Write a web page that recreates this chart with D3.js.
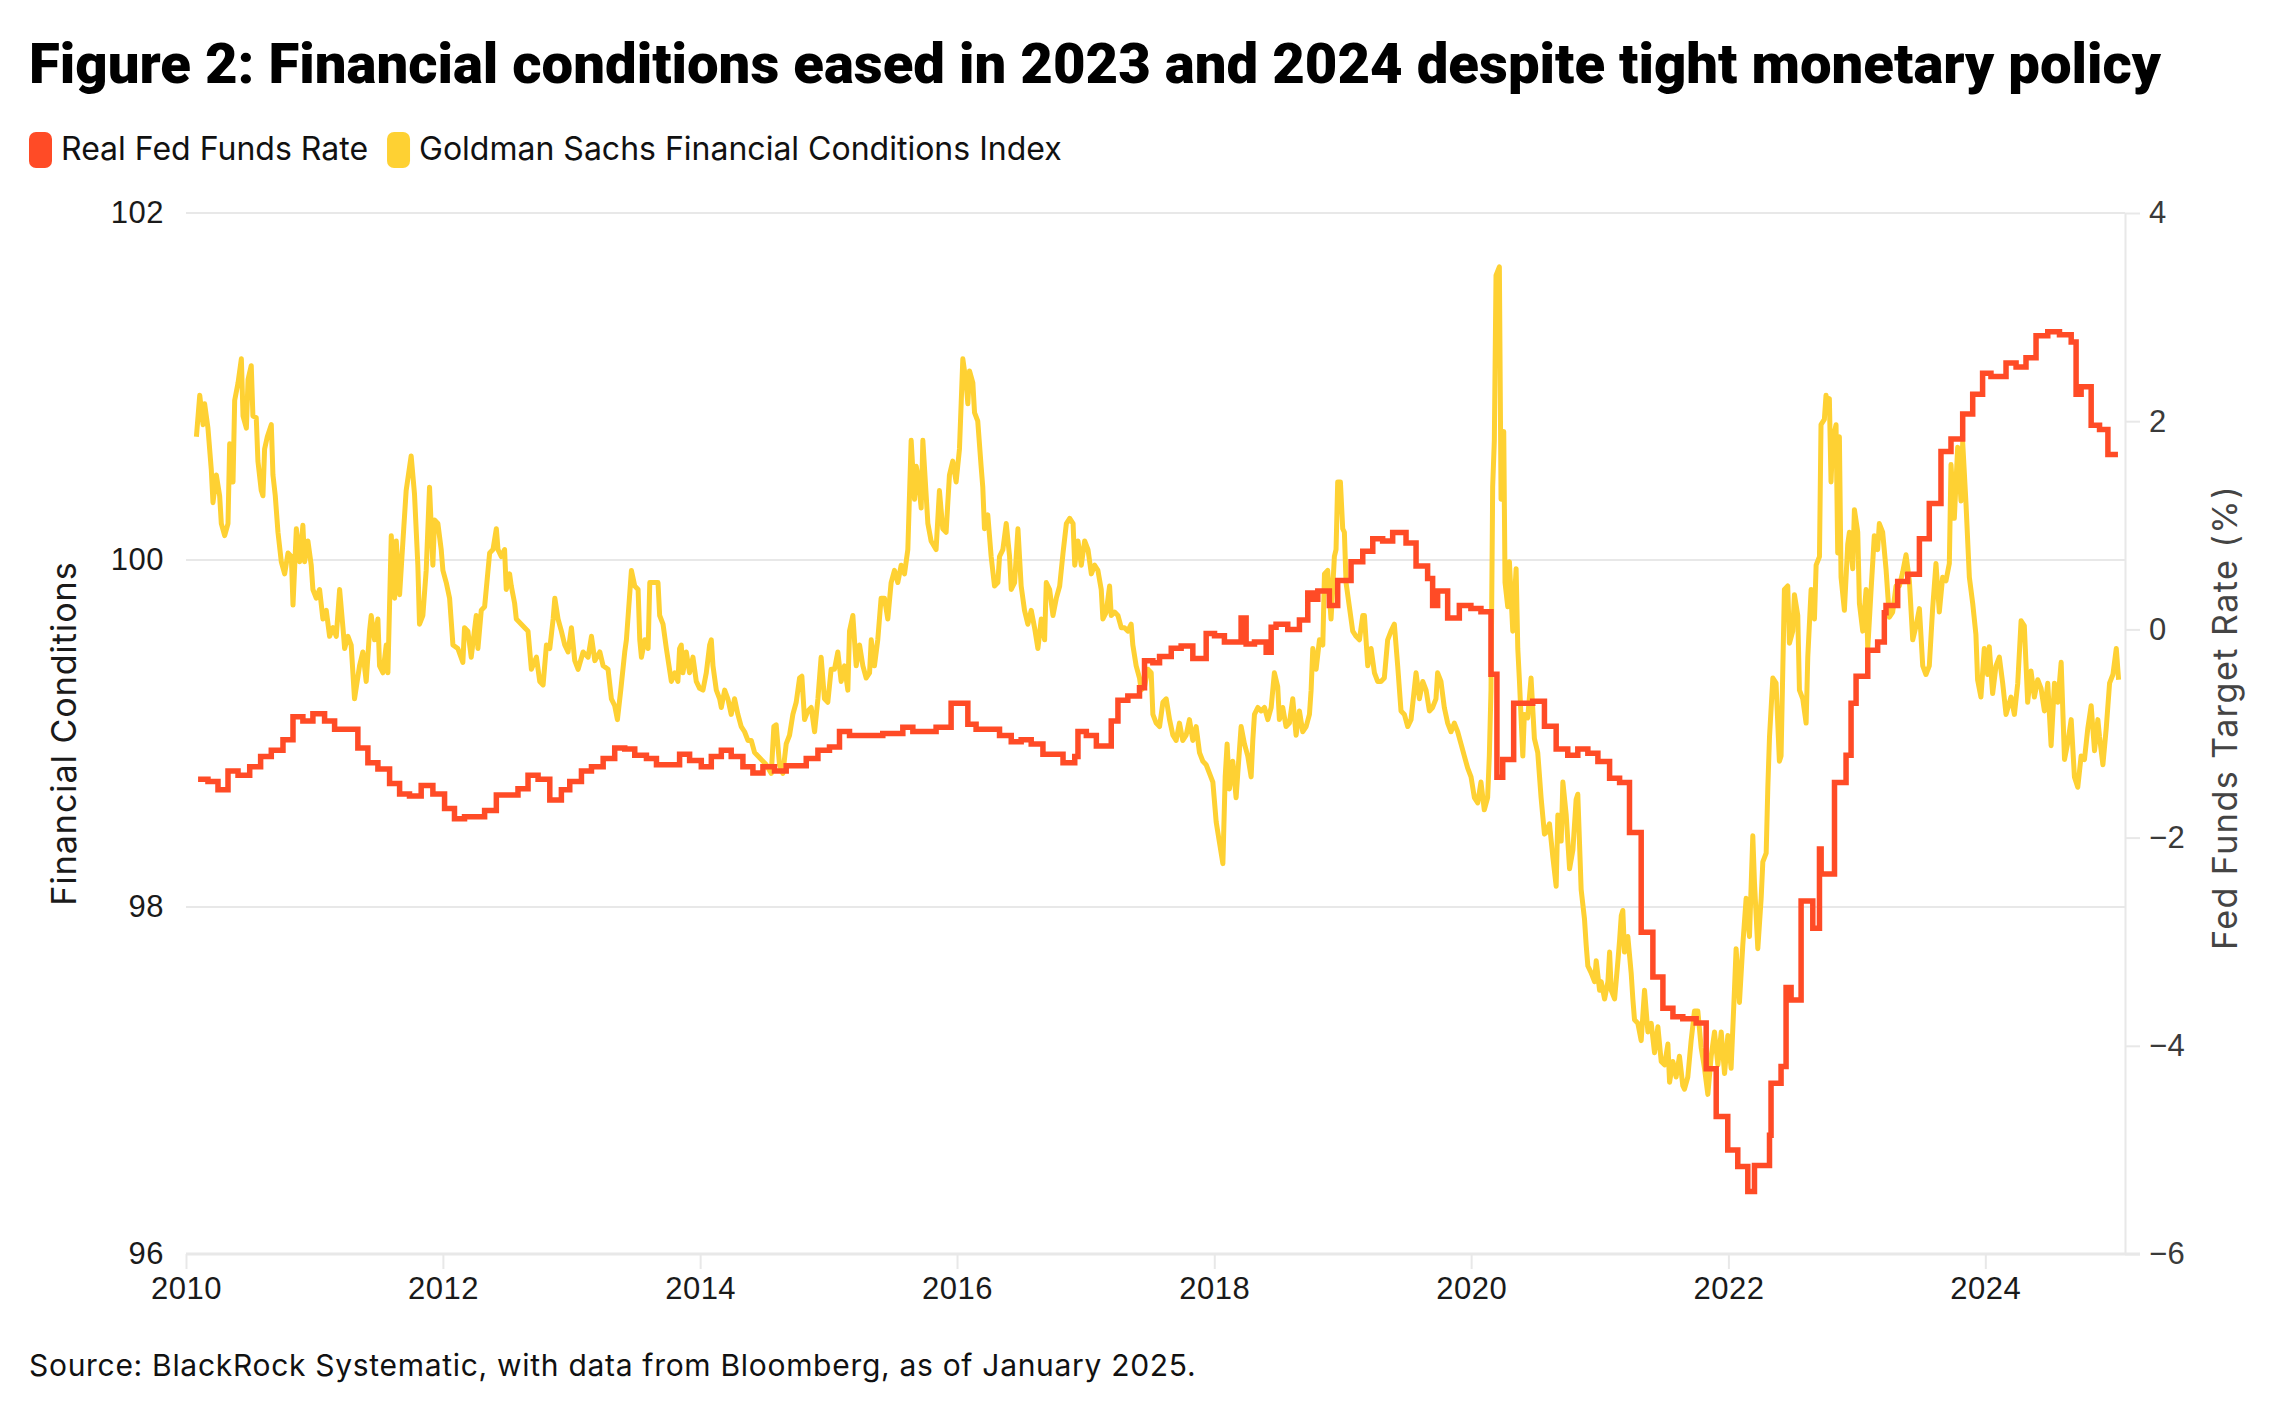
<!DOCTYPE html>
<html>
<head>
<meta charset="utf-8">
<script src="https://cdn.jsdelivr.net/npm/d3@7"></script>
<style>
  body { margin: 0; background: #fff; }
  svg { display: block; font-family: Inter, "Open Sans", "DejaVu Sans", sans-serif; }
</style>
</head>
<body>
<div id="chart"></div>
<script>
const titleText = "Figure 2: Financial conditions eased in 2023 and 2024 despite tight monetary policy"
const sourceText = "Source: BlackRock Systematic, with data from Bloomberg, as of January 2025."
const seriesNames = ["Real Fed Funds Rate", "Goldman Sachs Financial Conditions Index"]
const seriesColors = ["#ff4b26", "#fed133"]
const yearTicks = [2010, 2012, 2014, 2016, 2018, 2020, 2022, 2024]
const fciTicks = [96, 98, 100, 102]
const rateTicks = [-6, -4, -2, 0, 2, 4]

// Goldman Sachs FCI, [decimal year, index level] (left axis)
const fci = [
  [2010.081,100.71],[2010.107,100.95],[2010.133,100.78],[2010.145,100.90],[2010.171,100.76],[2010.197,100.52],
  [2010.210,100.33],[2010.236,100.49],[2010.262,100.37],[2010.275,100.21],[2010.301,100.14],[2010.327,100.21],
  [2010.340,100.67],[2010.366,100.45],[2010.379,100.92],[2010.405,101.02],[2010.431,101.16],[2010.444,100.83],
  [2010.470,100.76],[2010.483,101.04],[2010.508,101.12],[2010.521,100.83],[2010.547,100.82],[2010.560,100.57],
  [2010.586,100.40],[2010.599,100.37],[2010.612,100.64],[2010.633,100.71],[2010.664,100.78],[2010.677,100.49],
  [2010.695,100.37],[2010.716,100.16],[2010.742,99.99],[2010.768,99.92],[2010.794,100.04],[2010.820,100.02],
  [2010.833,99.74],[2010.859,100.18],[2010.885,99.99],[2010.910,100.20],[2010.923,99.99],[2010.949,100.11],
  [2010.975,99.97],[2010.988,99.83],[2011.014,99.78],[2011.040,99.83],[2011.066,99.66],[2011.092,99.71],
  [2011.118,99.56],[2011.144,99.61],[2011.170,99.56],[2011.196,99.83],[2011.222,99.61],[2011.235,99.49],
  [2011.261,99.56],[2011.286,99.51],[2011.312,99.20],[2011.351,99.39],[2011.377,99.47],[2011.403,99.30],
  [2011.429,99.59],[2011.442,99.68],[2011.468,99.54],[2011.494,99.66],[2011.507,99.39],[2011.533,99.35],
  [2011.559,99.51],[2011.572,99.35],[2011.598,100.14],[2011.624,99.78],[2011.637,100.11],[2011.663,99.80],
  [2011.689,100.11],[2011.714,100.40],[2011.753,100.60],[2011.779,100.38],[2011.805,99.97],[2011.818,99.63],
  [2011.844,99.68],[2011.870,99.94],[2011.896,100.42],[2011.922,99.97],[2011.935,100.23],[2011.961,100.21],
  [2011.987,100.06],[2012.000,99.94],[2012.026,99.87],[2012.052,99.78],[2012.078,99.51],[2012.116,99.49],
  [2012.155,99.41],[2012.168,99.61],[2012.194,99.59],[2012.220,99.44],[2012.259,99.68],[2012.272,99.49],
  [2012.298,99.71],[2012.324,99.73],[2012.363,100.04],[2012.389,100.06],[2012.415,100.18],[2012.428,100.06],
  [2012.453,100.02],[2012.479,100.06],[2012.492,99.83],[2012.518,99.92],[2012.531,99.85],[2012.557,99.75],
  [2012.570,99.66],[2012.609,99.63],[2012.635,99.61],[2012.661,99.59],[2012.687,99.37],[2012.726,99.44],
  [2012.752,99.30],[2012.778,99.28],[2012.804,99.51],[2012.830,99.49],[2012.856,99.66],[2012.869,99.78],
  [2012.894,99.66],[2012.920,99.59],[2012.946,99.51],[2012.972,99.47],[2012.998,99.61],[2013.024,99.42],
  [2013.050,99.37],[2013.089,99.47],[2013.128,99.44],[2013.154,99.56],[2013.180,99.42],[2013.219,99.47],
  [2013.245,99.39],[2013.283,99.37],[2013.309,99.20],[2013.335,99.16],[2013.356,99.08],[2013.382,99.25],
  [2013.413,99.47],[2013.426,99.54],[2013.465,99.94],[2013.491,99.85],[2013.517,99.83],[2013.530,99.54],
  [2013.543,99.44],[2013.569,99.54],[2013.595,99.49],[2013.608,99.87],[2013.634,99.87],[2013.672,99.87],
  [2013.685,99.68],[2013.711,99.63],[2013.737,99.49],[2013.776,99.30],[2013.802,99.35],[2013.827,99.30],
  [2013.840,99.49],[2013.853,99.51],[2013.866,99.35],[2013.892,99.47],[2013.918,99.35],[2013.944,99.44],
  [2013.970,99.30],[2013.996,99.26],[2014.022,99.25],[2014.048,99.35],[2014.074,99.51],[2014.087,99.54],
  [2014.100,99.39],[2014.126,99.25],[2014.152,99.20],[2014.165,99.15],[2014.191,99.25],[2014.216,99.20],
  [2014.242,99.11],[2014.268,99.20],[2014.294,99.11],[2014.320,99.04],[2014.346,99.01],[2014.372,98.96],
  [2014.398,98.96],[2014.424,98.89],[2014.450,98.87],[2014.489,98.84],[2014.515,98.82],[2014.554,98.77],
  [2014.574,99.04],[2014.592,99.05],[2014.618,98.82],[2014.644,98.77],[2014.670,98.94],[2014.696,98.99],
  [2014.722,99.11],[2014.748,99.18],[2014.774,99.32],[2014.792,99.33],[2014.813,99.08],[2014.839,99.13],
  [2014.865,99.15],[2014.891,99.01],[2014.917,99.20],[2014.942,99.44],[2014.968,99.20],[2014.994,99.18],
  [2015.020,99.37],[2015.046,99.37],[2015.072,99.47],[2015.098,99.30],[2015.124,99.39],[2015.150,99.25],
  [2015.163,99.59],[2015.189,99.68],[2015.215,99.39],[2015.241,99.51],[2015.267,99.39],[2015.293,99.32],
  [2015.319,99.35],[2015.332,99.54],[2015.357,99.39],[2015.383,99.54],[2015.409,99.78],[2015.435,99.78],
  [2015.461,99.66],[2015.487,99.87],[2015.513,99.94],[2015.539,99.87],[2015.565,99.97],[2015.591,99.92],
  [2015.617,100.06],[2015.643,100.69],[2015.669,100.35],[2015.682,100.54],[2015.695,100.49],[2015.721,100.30],
  [2015.734,100.69],[2015.760,100.37],[2015.773,100.21],[2015.798,100.11],[2015.837,100.06],[2015.863,100.40],
  [2015.889,100.18],[2015.915,100.16],[2015.941,100.49],[2015.967,100.57],[2015.993,100.45],[2016.019,100.64],
  [2016.032,100.90],[2016.045,101.16],[2016.071,101.02],[2016.084,100.90],[2016.097,101.09],[2016.123,101.02],
  [2016.136,100.85],[2016.161,100.80],[2016.187,100.54],[2016.200,100.42],[2016.213,100.18],[2016.239,100.26],
  [2016.265,100.02],[2016.291,99.85],[2016.317,99.87],[2016.330,100.02],[2016.356,100.06],[2016.382,100.21],
  [2016.408,100.02],[2016.421,99.83],[2016.447,99.87],[2016.473,100.18],[2016.498,99.85],[2016.524,99.71],
  [2016.550,99.63],[2016.576,99.71],[2016.602,99.61],[2016.628,99.49],[2016.654,99.66],[2016.680,99.54],
  [2016.693,99.87],[2016.719,99.83],[2016.745,99.68],[2016.771,99.78],[2016.797,99.85],[2016.823,100.04],
  [2016.849,100.21],[2016.875,100.24],[2016.901,100.21],[2016.914,99.97],[2016.939,100.11],[2016.965,99.97],
  [2016.991,100.11],[2017.017,100.06],[2017.043,99.92],[2017.069,99.97],[2017.094,99.94],[2017.120,99.83],
  [2017.133,99.66],[2017.159,99.70],[2017.185,99.85],[2017.198,99.68],[2017.224,99.70],[2017.250,99.68],
  [2017.276,99.61],[2017.301,99.61],[2017.327,99.59],[2017.353,99.63],[2017.366,99.51],[2017.392,99.39],
  [2017.418,99.32],[2017.431,99.25],[2017.457,99.27],[2017.483,99.37],[2017.509,99.35],[2017.522,99.11],
  [2017.548,99.06],[2017.574,99.04],[2017.600,99.18],[2017.626,99.20],[2017.652,99.08],[2017.678,98.99],
  [2017.703,98.96],[2017.729,99.06],[2017.755,98.96],[2017.781,98.99],[2017.807,99.08],[2017.833,98.96],
  [2017.859,99.04],[2017.885,98.89],[2017.911,98.84],[2017.937,98.82],[2017.963,98.77],[2017.989,98.72],
  [2018.015,98.49],[2018.041,98.37],[2018.067,98.25],[2018.085,98.75],[2018.100,98.94],[2018.118,98.68],
  [2018.144,98.84],[2018.170,98.63],[2018.183,98.77],[2018.209,99.04],[2018.235,98.94],[2018.261,98.87],
  [2018.287,98.75],[2018.300,98.96],[2018.313,99.11],[2018.339,99.15],[2018.365,99.13],[2018.391,99.15],
  [2018.417,99.08],[2018.443,99.15],[2018.468,99.35],[2018.494,99.27],[2018.507,99.08],[2018.533,99.15],
  [2018.559,99.04],[2018.585,99.06],[2018.611,99.20],[2018.637,98.99],[2018.663,99.13],[2018.689,99.01],
  [2018.715,99.04],[2018.741,99.11],[2018.754,99.25],[2018.767,99.49],[2018.793,99.37],[2018.819,99.54],
  [2018.845,99.51],[2018.858,99.92],[2018.883,99.94],[2018.909,99.66],[2018.922,99.83],[2018.935,100.02],
  [2018.948,100.06],[2018.961,100.45],[2018.982,100.45],[2019.000,100.18],[2019.013,100.16],[2019.026,99.87],
  [2019.052,99.73],[2019.078,99.59],[2019.104,99.56],[2019.130,99.54],[2019.156,99.68],[2019.169,99.68],
  [2019.195,99.39],[2019.221,99.49],[2019.247,99.35],[2019.272,99.30],[2019.298,99.30],[2019.324,99.32],
  [2019.350,99.54],[2019.376,99.59],[2019.402,99.63],[2019.428,99.39],[2019.454,99.13],[2019.480,99.11],
  [2019.506,99.04],[2019.532,99.08],[2019.571,99.35],[2019.597,99.20],[2019.623,99.30],[2019.649,99.25],
  [2019.675,99.13],[2019.700,99.15],[2019.726,99.20],[2019.739,99.35],[2019.765,99.30],[2019.791,99.15],
  [2019.817,99.06],[2019.843,99.01],[2019.869,99.06],[2019.895,99.01],[2019.921,98.94],[2019.947,98.87],
  [2019.973,98.80],[2019.999,98.75],[2020.025,98.63],[2020.051,98.60],[2020.076,98.72],[2020.102,98.56],
  [2020.128,98.63],[2020.141,98.87],[2020.154,99.25],[2020.167,100.42],[2020.180,100.69],[2020.193,101.64],
  [2020.219,101.69],[2020.232,100.35],[2020.253,100.74],[2020.263,99.87],[2020.284,99.73],[2020.297,99.99],
  [2020.323,99.59],[2020.349,99.95],[2020.362,99.49],[2020.375,99.30],[2020.401,98.87],[2020.413,99.11],
  [2020.439,99.09],[2020.465,99.32],[2020.491,98.97],[2020.517,98.89],[2020.543,98.63],[2020.569,98.42],
  [2020.582,98.43],[2020.608,98.48],[2020.634,98.29],[2020.660,98.12],[2020.673,98.53],[2020.699,98.38],
  [2020.712,98.72],[2020.738,98.53],[2020.764,98.22],[2020.790,98.33],[2020.815,98.62],[2020.828,98.65],
  [2020.854,98.10],[2020.880,97.93],[2020.893,97.78],[2020.906,97.66],[2020.932,97.62],[2020.958,97.57],
  [2020.971,97.69],[2020.997,97.52],[2021.010,97.57],[2021.036,97.47],[2021.062,97.57],[2021.075,97.74],
  [2021.088,97.52],[2021.114,97.47],[2021.140,97.69],[2021.153,97.81],[2021.166,97.95],[2021.178,97.98],
  [2021.191,97.74],[2021.217,97.83],[2021.243,97.62],[2021.256,97.47],[2021.269,97.35],[2021.295,97.33],
  [2021.321,97.23],[2021.347,97.52],[2021.373,97.28],[2021.399,97.33],[2021.425,97.16],[2021.451,97.31],
  [2021.477,97.11],[2021.503,97.09],[2021.529,97.21],[2021.542,96.99],[2021.568,97.11],[2021.593,97.02],
  [2021.619,97.14],[2021.645,96.97],[2021.658,96.95],[2021.684,97.02],[2021.710,97.23],[2021.736,97.40],
  [2021.762,97.40],[2021.788,97.19],[2021.814,97.07],[2021.840,96.92],[2021.866,97.14],[2021.892,97.28],
  [2021.918,97.09],[2021.944,97.28],[2021.970,97.04],[2021.996,97.26],[2022.021,97.07],[2022.047,97.52],
  [2022.060,97.76],[2022.086,97.45],[2022.112,97.78],[2022.138,98.05],[2022.164,97.83],[2022.190,98.41],
  [2022.203,98.14],[2022.229,97.76],[2022.255,98.05],[2022.268,98.26],[2022.294,98.31],[2022.307,98.69],
  [2022.320,98.98],[2022.346,99.32],[2022.371,99.29],[2022.397,98.84],[2022.410,98.87],[2022.436,99.83],
  [2022.462,99.85],[2022.475,99.52],[2022.501,99.59],[2022.514,99.80],[2022.540,99.68],[2022.553,99.25],
  [2022.579,99.20],[2022.605,99.06],[2022.618,99.44],[2022.644,99.83],[2022.670,99.66],[2022.683,99.97],
  [2022.709,100.02],[2022.721,100.78],[2022.747,100.81],[2022.760,100.95],[2022.773,100.88],[2022.786,100.93],
  [2022.799,100.45],[2022.812,100.69],[2022.838,100.78],[2022.851,100.04],[2022.864,100.71],[2022.877,99.90],
  [2022.903,99.71],[2022.929,100.09],[2022.942,100.16],[2022.968,99.95],[2022.981,100.29],[2023.007,100.16],
  [2023.020,99.75],[2023.046,99.59],[2023.072,99.83],[2023.085,99.49],[2023.111,99.83],[2023.136,100.14],
  [2023.162,100.06],[2023.175,100.21],[2023.201,100.16],[2023.227,99.95],[2023.253,99.67],[2023.279,99.70],
  [2023.305,99.85],[2023.331,99.85],[2023.357,99.93],[2023.383,100.03],[2023.409,99.88],[2023.435,99.54],
  [2023.461,99.62],[2023.487,99.72],[2023.513,99.39],[2023.538,99.34],[2023.564,99.39],[2023.590,99.72],
  [2023.616,99.98],[2023.642,99.70],[2023.668,99.90],[2023.694,99.88],[2023.720,99.98],[2023.733,100.55],
  [2023.759,100.24],[2023.785,100.65],[2023.811,100.34],[2023.824,100.68],[2023.850,100.32],[2023.876,99.90],
  [2023.902,99.75],[2023.927,99.57],[2023.940,99.31],[2023.966,99.21],[2023.992,99.49],[2024.018,99.34],
  [2024.031,99.50],[2024.057,99.23],[2024.083,99.39],[2024.109,99.44],[2024.135,99.29],[2024.161,99.11],
  [2024.200,99.21],[2024.226,99.11],[2024.252,99.29],[2024.278,99.65],[2024.303,99.62],[2024.329,99.18],
  [2024.355,99.36],[2024.381,99.21],[2024.407,99.31],[2024.433,99.26],[2024.459,99.13],[2024.485,99.29],
  [2024.511,98.93],[2024.537,99.29],[2024.563,99.18],[2024.589,99.41],[2024.615,98.85],[2024.641,98.95],
  [2024.667,99.08],[2024.692,98.75],[2024.718,98.69],[2024.744,98.87],[2024.770,98.85],[2024.796,99.03],
  [2024.822,99.16],[2024.848,98.90],[2024.874,99.08],[2024.887,98.98],[2024.913,98.82],[2024.939,99.03],
  [2024.965,99.29],[2024.991,99.34],[2025.017,99.49],[2025.035,99.31]
]

// Real fed funds rate, [decimal year, %] step values (right axis)
const realRate = [
  [2010.094,-1.44],[2010.171,-1.46],[2010.249,-1.54],[2010.327,-1.36],[2010.405,-1.40],[2010.496,-1.32],
  [2010.581,-1.22],[2010.664,-1.16],[2010.755,-1.06],[2010.833,-0.84],[2010.910,-0.88],[2010.988,-0.81],
  [2011.079,-0.88],[2011.157,-0.96],[2011.338,-1.14],[2011.416,-1.28],[2011.494,-1.34],[2011.585,-1.48],
  [2011.663,-1.58],[2011.740,-1.60],[2011.831,-1.50],[2011.922,-1.58],[2012.013,-1.72],[2012.090,-1.82],
  [2012.168,-1.80],[2012.324,-1.74],[2012.415,-1.59],[2012.583,-1.53],[2012.661,-1.40],[2012.739,-1.44],
  [2012.830,-1.64],[2012.920,-1.54],[2012.985,-1.46],[2013.076,-1.36],[2013.154,-1.32],[2013.245,-1.24],
  [2013.335,-1.14],[2013.413,-1.15],[2013.491,-1.21],[2013.582,-1.24],[2013.660,-1.30],[2013.840,-1.20],
  [2013.918,-1.26],[2014.009,-1.32],[2014.087,-1.22],[2014.165,-1.16],[2014.242,-1.22],[2014.333,-1.32],
  [2014.411,-1.38],[2014.489,-1.32],[2014.579,-1.36],[2014.670,-1.31],[2014.826,-1.24],[2014.917,-1.16],
  [2015.007,-1.13],[2015.085,-0.98],[2015.163,-1.02],[2015.422,-1.00],[2015.578,-0.94],[2015.656,-0.98],
  [2015.837,-0.94],[2015.954,-0.71],[2016.084,-0.91],[2016.148,-0.96],[2016.330,-1.02],[2016.421,-1.08],
  [2016.498,-1.06],[2016.576,-1.10],[2016.667,-1.20],[2016.823,-1.28],[2016.914,-1.22],[2016.939,-0.98],
  [2017.004,-1.02],[2017.082,-1.12],[2017.198,-0.88],[2017.250,-0.68],[2017.327,-0.64],[2017.418,-0.56],
  [2017.457,-0.30],[2017.522,-0.32],[2017.574,-0.26],[2017.665,-0.18],[2017.742,-0.16],[2017.833,-0.28],
  [2017.937,-0.04],[2018.002,-0.06],[2018.079,-0.12],[2018.209,0.11],[2018.248,-0.14],[2018.313,-0.12],
  [2018.404,-0.22],[2018.443,0.02],[2018.481,0.05],[2018.572,0.00],[2018.663,0.09],[2018.728,0.35],
  [2018.767,0.29],[2018.806,0.37],[2018.896,0.23],[2018.961,0.47],[2019.065,0.65],[2019.156,0.75],
  [2019.234,0.87],[2019.311,0.85],[2019.389,0.93],[2019.493,0.83],[2019.571,0.61],[2019.661,0.49],
  [2019.700,0.23],[2019.739,0.37],[2019.817,0.11],[2019.908,0.23],[2019.998,0.20],[2020.076,0.17],
  [2020.154,-0.43],[2020.200,-1.42],[2020.245,-1.25],[2020.330,-0.71],[2020.478,-0.69],[2020.569,-0.93],
  [2020.660,-1.15],[2020.750,-1.21],[2020.828,-1.15],[2020.906,-1.19],[2020.984,-1.27],[2021.075,-1.43],
  [2021.153,-1.47],[2021.230,-1.95],[2021.321,-2.91],[2021.412,-3.34],[2021.490,-3.64],[2021.568,-3.72],
  [2021.645,-3.74],[2021.749,-3.78],[2021.827,-4.22],[2021.905,-4.68],[2021.995,-5.00],[2022.073,-5.16],
  [2022.151,-5.40],[2022.203,-5.15],[2022.320,-4.86],[2022.332,-4.36],[2022.410,-4.20],[2022.449,-3.44],
  [2022.488,-3.56],[2022.566,-2.61],[2022.657,-2.87],[2022.709,-2.11],[2022.722,-2.35],[2022.826,-1.47],
  [2022.916,-1.21],[2022.955,-0.71],[2022.994,-0.45],[2023.085,-0.20],[2023.162,-0.12],[2023.214,0.16],
  [2023.227,0.23],[2023.318,0.46],[2023.396,0.53],[2023.487,0.87],[2023.564,1.21],[2023.655,1.71],
  [2023.733,1.83],[2023.824,2.07],[2023.902,2.26],[2023.979,2.46],[2024.044,2.43],[2024.161,2.56],
  [2024.239,2.52],[2024.316,2.61],[2024.394,2.82],[2024.485,2.86],[2024.576,2.83],[2024.667,2.76],
  [2024.705,2.26],[2024.744,2.33],[2024.822,1.96],[2024.887,1.92],[2024.952,1.68],[2025.030,1.68]
]

var margin = {top: 213, right: 149, bottom: 166, left: 186},
    width = 2274 - margin.left - margin.right,
    height = 1420 - margin.top - margin.bottom;

function toDate(y) {
  var yr = Math.floor(y)
  var start = new Date(yr, 0, 1), end = new Date(yr + 1, 0, 1)
  return new Date(+start + (y - yr) * (end - start))
}

var svg = d3.select("#chart").append("svg")
    .attr("width", 2274)
    .attr("height", 1420)

var xScale = d3.scaleTime()
    .domain([new Date(2010, 0, 1), new Date(2025, 1, 1)])
    .range([0, width])

var yLeft = d3.scaleLinear().domain([96, 102]).range([height, 0])
var yRight = d3.scaleLinear().domain([-6, 4]).range([height, 0])

// title
svg.append("text")
    .attr("x", 29)
    .attr("y", 83)
    .attr("font-family", "Roboto, Inter, sans-serif")
    .attr("font-weight", 900)
    .attr("font-size", "56px")
    .attr("fill", "#000")
    .attr("textLength", 2132)
    .attr("lengthAdjust", "spacingAndGlyphs")
    .text(titleText)

// legend
var lx = 29
seriesNames.forEach((name, i) => {
  svg.append("rect")
    .attr("x", lx).attr("y", 132)
    .attr("width", 23).attr("height", 36)
    .attr("rx", 7)
    .attr("fill", seriesColors[i])
  var t = svg.append("text")
    .attr("x", lx + 32)
    .attr("y", 160)
    .attr("font-size", "32px")
    .attr("fill", "#111")
    .text(name)
  lx += 32 + t.node().getComputedTextLength() + 19
})

var chartGroup = svg.append("g").attr("transform", "translate(" + margin.left + "," + margin.top + ")")

// gridlines
chartGroup.append("g").selectAll("line")
  .data(fciTicks)
  .join("line")
    .attr("x1", 0)
    .attr("x2", d => d === 96 ? width + 15 : width)
    .attr("y1", d => yLeft(d))
    .attr("y2", d => yLeft(d))
    .attr("stroke", "#e8e8e8")
    .attr("stroke-width", d => d === 96 ? 3 : 2)

// left axis
var leftAxis = chartGroup.append("g")
    .call(d3.axisLeft(yLeft).tickValues(fciTicks).tickFormat(d3.format("d")).tickSize(0).tickPadding(22))
leftAxis.select(".domain").remove()
leftAxis.selectAll("text").attr("font-size", "31px").attr("letter-spacing", "0.5px").attr("fill", "#1a1a1a").attr("font-family", null)

// right axis
var rightAxis = chartGroup.append("g")
    .attr("transform", "translate(" + width + ",0)")
    .call(d3.axisRight(yRight).tickValues(rateTicks).tickSize(15).tickSizeOuter(0).tickPadding(9))
rightAxis.select(".domain").attr("stroke", "#e8e8e8").attr("stroke-width", 2)
rightAxis.selectAll(".tick line").attr("stroke", "#e8e8e8").attr("stroke-width", 2)
rightAxis.selectAll("text").attr("font-size", "31px").attr("letter-spacing", "0.5px").attr("fill", "#3a3a3a").attr("font-family", null)

// bottom axis
var bottomAxis = chartGroup.append("g")
    .attr("transform", "translate(0," + height + ")")
    .call(d3.axisBottom(xScale)
      .tickValues(yearTicks.map(y => new Date(y, 0, 1)))
      .tickFormat(d3.timeFormat("%Y"))
      .tickSize(15).tickPadding(8))
bottomAxis.select(".domain").remove()
bottomAxis.selectAll(".tick line").attr("stroke", "#e8e8e8").attr("stroke-width", 2)
bottomAxis.selectAll("text").attr("font-size", "31px").attr("letter-spacing", "0.5px").attr("fill", "#1a1a1a").attr("font-family", null)

// axis titles
svg.append("text")
    .attr("transform", "translate(63," + (margin.top + height / 2) + ") rotate(-90)")
    .attr("text-anchor", "middle")
    .attr("dominant-baseline", "central")
    .attr("font-size", "34px")
    .attr("letter-spacing", "1px")
    .attr("fill", "#1a1a1a")
    .text("Financial Conditions")

svg.append("text")
    .attr("transform", "translate(2224," + (margin.top + height / 2 - 16) + ") rotate(-90)")
    .attr("text-anchor", "middle")
    .attr("dominant-baseline", "central")
    .attr("font-size", "34px")
    .attr("letter-spacing", "1.5px")
    .attr("fill", "#444")
    .text("Fed Funds Target Rate (%)")

// lines
var fciLine = d3.line()
    .x(d => xScale(toDate(d[0])))
    .y(d => yLeft(d[1]))

var rateLine = d3.line()
    .x(d => xScale(toDate(d[0])))
    .y(d => yRight(d[1]))
    .curve(d3.curveStepAfter)

chartGroup.append("path")
    .attr("d", fciLine(fci))
    .attr("fill", "none")
    .attr("stroke", seriesColors[1])
    .attr("stroke-width", 5)
    .attr("stroke-linejoin", "round")

chartGroup.append("path")
    .attr("d", rateLine(realRate))
    .attr("fill", "none")
    .attr("stroke", seriesColors[0])
    .attr("stroke-width", 5.5)

// source
svg.append("text")
    .attr("x", 29)
    .attr("y", 1376)
    .attr("font-size", "30px")
    .attr("letter-spacing", "0.7px")
    .attr("fill", "#111")
    .text(sourceText)
</script>
</body>
</html>
